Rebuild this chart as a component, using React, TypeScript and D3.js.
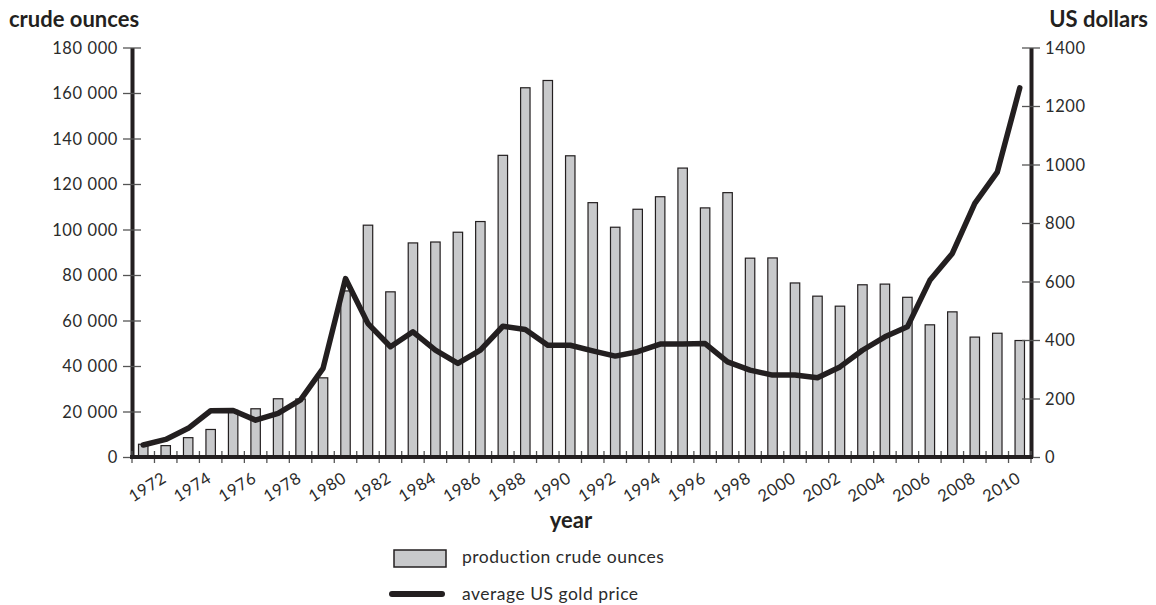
import React, { useEffect, useRef } from "react";
import * as d3 from "d3";

const years = [
  1971, 1972, 1973, 1974, 1975, 1976, 1977, 1978, 1979, 1980,
  1981, 1982, 1983, 1984, 1985, 1986, 1987, 1988, 1989, 1990,
  1991, 1992, 1993, 1994, 1995, 1996, 1997, 1998, 1999, 2000,
  2001, 2002, 2003, 2004, 2005, 2006, 2007, 2008, 2009, 2010,
];

// production, crude ounces
const production = [
  5600, 5000, 8500, 12100, 20500, 21200, 25600, 25500, 34800, 73000,
  101900, 72600, 94100, 94500, 98800, 103500, 132600, 162300, 165500, 132400,
  111800, 101000, 108900, 114400, 127000, 109500, 116200, 87400, 87500, 76500,
  70700, 66300, 75700, 76000, 70200, 58100, 63800, 52700, 54400, 51200,
];

// average US gold price, US dollars
const goldPrice = [
  41, 60, 98, 158, 159, 126, 149, 195, 303, 610,
  456, 377, 428, 365, 320, 365, 447, 436, 382, 382,
  363, 345, 360, 386, 386, 388, 325, 297, 280, 280,
  271, 308, 365, 411, 445, 604, 696, 867, 974, 1262,
];

const leftTicks = [0, 20000, 40000, 60000, 80000, 100000, 120000, 140000, 160000, 180000];
const rightTicks = [0, 200, 400, 600, 800, 1000, 1200, 1400];

const W = 1156;
const H = 605;
const ink = "#231f20";
const font = "Lato, 'Open Sans', sans-serif";

export default function App() {
  const ref = useRef<SVGSVGElement>(null);

  useEffect(() => {
    const svg = d3.select(ref.current);
    svg.selectAll("*").remove();

    const left = 132, right = 1031, top = 47.5, bottom = 457;

    const x = d3.scaleBand<number>()
      .domain(years)
      .range([left, right])
      .paddingInner(0.58)
      .paddingOuter(0.29);
    const step = x.step();
    const yL = d3.scaleLinear().domain([0, 180000]).range([bottom, top]);
    const yR = d3.scaleLinear().domain([0, 1400]).range([bottom, top]);

    // bars
    svg.append("g")
      .selectAll("rect")
      .data(years)
      .enter()
      .append("rect")
      .attr("x", d => x(d)!)
      .attr("y", (d, i) => yL(production[i]))
      .attr("width", x.bandwidth())
      .attr("height", (d, i) => bottom - yL(production[i]))
      .attr("fill", "#c8c9cb")
      .attr("stroke", ink)
      .attr("stroke-width", 1.2);

    const fmt = (v: number) => d3.format(",")(v).replace(/,/g, " ");

    // left axis
    const gl = svg.append("g")
      .attr("transform", `translate(${left},0)`)
      .call(d3.axisLeft(yL).tickValues(leftTicks).tickFormat(v => fmt(+v)).tickSizeOuter(0));
    gl.select(".domain").attr("stroke", ink).attr("stroke-width", 4);
    gl.selectAll(".tick line").attr("x1", 9).attr("x2", -9).attr("stroke", "#555").attr("stroke-width", 1.3);
    gl.selectAll(".tick text").attr("x", -14).attr("dy", "0.36em");

    // right axis
    const gr = svg.append("g")
      .attr("transform", `translate(${right},0)`)
      .call(d3.axisRight(yR).tickValues(rightTicks).tickFormat(v => String(v)).tickSizeOuter(0));
    gr.select(".domain").attr("stroke", ink).attr("stroke-width", 4);
    gr.selectAll(".tick line").attr("x1", -9).attr("x2", 9).attr("stroke", "#555").attr("stroke-width", 1.3);
    gr.selectAll(".tick text").attr("x", 14).attr("dy", "0.36em");

    [gl, gr].forEach(g => {
      g.attr("font-family", font).attr("font-size", 16.5);
      g.selectAll(".tick text").attr("fill", "#2b2b2b").attr("letter-spacing", 0.6);
    });

    // bottom axis
    const gb = svg.append("g");
    gb.selectAll("line.tk")
      .data(years.concat([years[years.length - 1] + 1]))
      .enter()
      .append("line")
      .attr("x1", d => (x(d) ?? x(years[years.length - 1])! + step) - step * 0.29)
      .attr("x2", d => (x(d) ?? x(years[years.length - 1])! + step) - step * 0.29)
      .attr("y1", bottom - 6)
      .attr("y2", bottom + 6)
      .attr("stroke", "#555")
      .attr("stroke-width", 1.3);
    gb.append("line")
      .attr("x1", left - 2)
      .attr("x2", right + 2)
      .attr("y1", bottom)
      .attr("y2", bottom)
      .attr("stroke", ink)
      .attr("stroke-width", 4);
    gb.selectAll("text")
      .data(years.filter(d => d % 2 === 0))
      .enter()
      .append("text")
      .attr("transform", d => `translate(${x(d)! + x.bandwidth() / 2 + 2},${bottom + 24}) rotate(-32)`)
      .attr("text-anchor", "end")
      .attr("font-family", font)
      .attr("font-size", 16.5)
      .attr("letter-spacing", 0.6)
      .attr("fill", "#2b2b2b")
      .text(d => d);

    // gold price line
    const line = d3.line<number>()
      .x((d, i) => x(years[i])! + x.bandwidth() / 2)
      .y(d => yR(d));
    svg.append("path")
      .datum(goldPrice)
      .attr("d", line)
      .attr("fill", "none")
      .attr("stroke", ink)
      .attr("stroke-width", 5.5)
      .attr("stroke-linejoin", "round")
      .attr("stroke-linecap", "round");

    // axis titles
    svg.append("text")
      .attr("x", 9).attr("y", 27)
      .attr("font-family", font).attr("font-size", 22).attr("font-weight", 700)
      .attr("fill", ink)
      .text("crude ounces");
    svg.append("text")
      .attr("x", 1148).attr("y", 27)
      .attr("text-anchor", "end")
      .attr("font-family", font).attr("font-size", 22).attr("font-weight", 700)
      .attr("fill", ink)
      .text("US dollars");
    svg.append("text")
      .attr("x", 571).attr("y", 528)
      .attr("text-anchor", "middle")
      .attr("font-family", font).attr("font-size", 22).attr("font-weight", 700)
      .attr("fill", ink)
      .text("year");

    // legend
    const lg = svg.append("g").attr("font-family", font).attr("font-size", 17.5).attr("fill", "#2b2b2b");
    lg.append("rect")
      .attr("x", 394).attr("y", 550).attr("width", 52).attr("height", 17)
      .attr("fill", "#c8c9cb").attr("stroke", ink).attr("stroke-width", 1.5);
    lg.append("text").attr("x", 462).attr("y", 563).attr("letter-spacing", 0.5).text("production crude ounces");
    lg.append("line")
      .attr("x1", 392).attr("x2", 442).attr("y1", 594).attr("y2", 594)
      .attr("stroke", ink).attr("stroke-width", 6).attr("stroke-linecap", "round");
    lg.append("text").attr("x", 462).attr("y", 600).attr("letter-spacing", 0.5).text("average US gold price");
  }, []);

  return (
    <svg
      ref={ref}
      width={W}
      height={H}
      style={{ position: "absolute", left: 0, top: 0, background: "#fff" }}
    />
  );
}
